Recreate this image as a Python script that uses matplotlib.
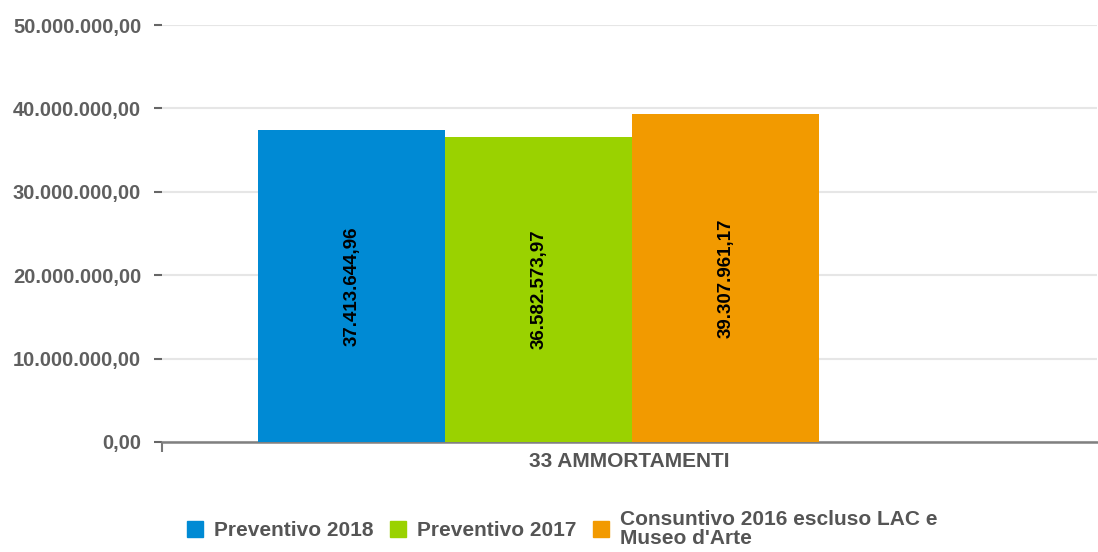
import matplotlib.pyplot as plt
import numpy as np

categories = ['33 AMMORTAMENTI']
series_names = ['Preventivo 2018', 'Preventivo 2017', "Consuntivo 2016 escluso LAC e\nMuseo d'Arte"]
values = [37413644.96, 36582573.97, 39307961.17]
colors = ['#008AD4', '#9AD200', '#F29A00']
yticks = [0, 10000000, 20000000, 30000000, 40000000, 50000000]


def fmt(v):
    # formato italiano: 1.234.567,89
    s = '{:,.2f}'.format(v)
    return s.replace(',', 'X').replace('.', ',').replace('X', '.')


plt.rcParams['font.family'] = ['Liberation Sans', 'DejaVu Sans']

fig = plt.figure(figsize=(10.98, 5.52), dpi=100)
ax = fig.add_axes([162 / 1098, 1 - 442 / 552, (1097 - 162) / 1098, (442 - 25) / 552])

# 4 slots per category (the fourth one is empty in the original)
w = 0.2
x0 = np.arange(len(categories))
for i in range(len(values)):
    xi = x0 + (i - 1.5) * w + 0.003
    ax.bar(xi, values[i], width=w, color=colors[i], label=series_names[i], zorder=3)
    ax.text(xi[0], values[i] / 2, fmt(values[i]), rotation=90, ha='center', va='center',
            fontsize=13.5, fontweight='bold', color='black', zorder=4)

ax.set_xlim(-0.5, 0.5)
ax.set_ylim(0, 50000000)
ax.set_yticks(yticks)
ax.set_yticklabels([fmt(t) for t in yticks], fontsize=14.5, fontweight='bold', color='#5f5f5f')
ax.yaxis.grid(True, color='#e6e6e6', linewidth=1.5, zorder=0)
ax.tick_params(axis='y', length=6, width=1.5, color='#666666', pad=9)

ax.set_xticks([-0.5])
ax.set_xticklabels([''])
ax.tick_params(axis='x', length=7, width=1.5, color='#777777')
ax.set_xticks(x0, minor=True)
ax.set_xticklabels(categories, minor=True, fontsize=15, fontweight='bold', color='#555555')
ax.tick_params(axis='x', which='minor', length=0, pad=7)

for side in ['top', 'right', 'left']:
    ax.spines[side].set_visible(False)
ax.spines['bottom'].set_color('#808080')
ax.spines['bottom'].set_linewidth(1.8)

handles = [plt.Line2D([], [], marker='s', linestyle='', markersize=12, color=c) for c in colors]
leg = fig.legend(handles, series_names, loc='center', bbox_to_anchor=(560 / 1098, 1 - 529 / 552), ncol=3,
                 frameon=False, handletextpad=0.3, columnspacing=0.6, handlelength=1.2,
                 prop={'size': 15, 'weight': 'bold'})
for t in leg.get_texts():
    t.set_color('#555555')
    t.set_linespacing(0.95)

fig.savefig('out.png', dpi=100)
